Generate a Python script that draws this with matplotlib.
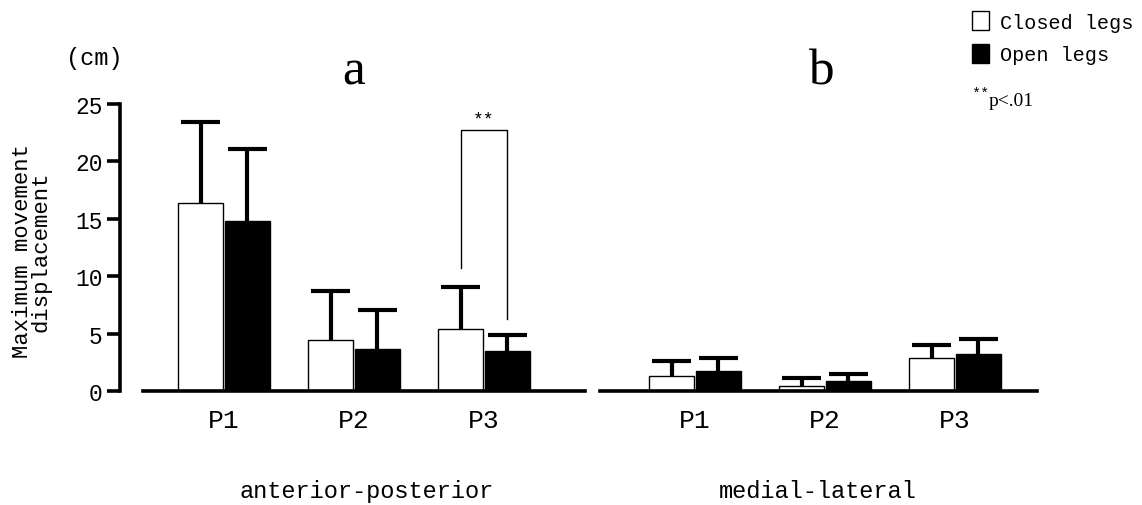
import matplotlib
matplotlib.use("Agg")
import matplotlib.pyplot as plt
import numpy as np
from matplotlib.patches import Patch

# ---- data ----
positions = ["P1", "P2", "P3"]
ap_closed = [16.4, 4.4, 5.4]
ap_closed_sd = [7.05, 4.35, 3.7]
ap_open = [14.8, 3.7, 3.5]
ap_open_sd = [6.3, 3.35, 1.35]
ml_closed = [1.33, 0.46, 2.85]
ml_closed_sd = [1.25, 0.67, 1.18]
ml_open = [1.7, 0.85, 3.22]
ml_open_sd = [1.15, 0.63, 1.31]
yticks = [0, 5, 10, 15, 20, 25]
panel_titles = ["a", "b"]
panel_xlabels = ["anterior-posterior", "medial-lateral"]
legend_labels = ["Closed legs", "Open legs"]
sig_text = "**"
sig_bracket_y = [10.7, 22.7, 6.3]  # left end, top, right end

FONT = ["Liberation Mono", "DejaVu Sans Mono"]
SERIF = ["Liberation Serif", "DejaVu Serif"]

W, H = 1142, 506
fig = plt.figure(figsize=(W / 100, H / 100), dpi=100)

def fx(px):
    return px / W

def fy(py):
    return 1 - py / H

unit = 130.0
ax1 = fig.add_axes([fx(120), fy(392), fx(585) - fx(120), fy(105) - fy(392)])
ax2 = fig.add_axes([fx(600), fy(392), fx(1037) - fx(600), fy(105) - fy(392)])
ax1.set_xlim((120 - 224) / unit, (585 - 224) / unit)
ax2.set_xlim((600 - 695) / unit, (1037 - 695) / unit)

bw = 0.345
off = 0.18
cap = 0.30
x = np.arange(len(positions))

def draw(ax, closed, csd, opn, osd):
    ax.bar(x - off, closed, bw, color="white", edgecolor="black", linewidth=1.0, zorder=2)
    ax.bar(x + off, opn, bw, color="black", edgecolor="black", linewidth=1.0, zorder=2)
    for xs, vals, sd in ((x - off, closed, csd), (x + off, opn, osd)):
        vals = np.asarray(vals)
        tops = vals + np.asarray(sd)
        ax.vlines(xs, vals, tops, color="black", linewidth=3.0, zorder=1)
        ax.hlines(tops, xs - cap / 2, xs + cap / 2, color="black", linewidth=3.0, zorder=1)
    ax.set_ylim(0, 25)
    for s in ("top", "right"):
        ax.spines[s].set_visible(False)
    ax.spines["bottom"].set_linewidth(2.6)
    ax.set_xticks(x)
    ax.set_xticklabels(positions, fontfamily=FONT, fontsize=19)
    ax.tick_params(axis="x", length=0, pad=12)
    ax.patch.set_visible(False)

draw(ax1, ap_closed, ap_closed_sd, ap_open, ap_open_sd)
draw(ax2, ml_closed, ml_closed_sd, ml_open, ml_open_sd)

ax1.spines["bottom"].set_bounds((143 - 224) / unit, ax1.get_xlim()[1])
ax1.spines["left"].set_linewidth(2.6)
ax1.spines["left"].set_bounds(0, 25)
ax1.set_yticks(yticks)
ax1.set_yticklabels([str(t) for t in yticks], fontfamily=FONT, fontsize=16.5)
ax1.tick_params(axis="y", length=9.5, width=2.6, pad=3)
ax1.set_ylabel("Maximum movement\ndisplacement", fontfamily=FONT, fontsize=16,
               linespacing=0.85)
ax1.yaxis.set_label_coords((52 - 120) / 465, 0.49)
ax2.spines["left"].set_visible(False)
ax2.set_yticks([])

# significance bracket on P3 (anterior-posterior)
bx = [2 - off, 2 - off, 2 + off, 2 + off]
by = [sig_bracket_y[0], sig_bracket_y[1], sig_bracket_y[1], sig_bracket_y[2]]
ax1.plot(bx, by, color="black", linewidth=1.0, zorder=3)
ax1.text(2, sig_bracket_y[1] + 0.25, sig_text, ha="center", va="bottom",
         fontfamily=FONT, fontsize=13)

# panel titles
fig.text(fx(354), fy(72), panel_titles[0], ha="center", va="center", fontfamily=SERIF, fontsize=37)
fig.text(fx(821), fy(72), panel_titles[1], ha="center", va="center", fontfamily=SERIF, fontsize=37)
fig.text(fx(94), fy(59), "(cm)", ha="center", va="center", fontfamily=FONT, fontsize=17)

# bottom labels
fig.text(fx(367), fy(492), panel_xlabels[0], ha="center", va="center", fontfamily=FONT, fontsize=17)
fig.text(fx(818), fy(492), panel_xlabels[1], ha="center", va="center", fontfamily=FONT, fontsize=17)

# legend
handles = [Patch(facecolor="white", edgecolor="black", linewidth=1.0),
           Patch(facecolor="black", edgecolor="black", linewidth=1.0)]
fig.legend(handles, legend_labels, loc="upper left", bbox_to_anchor=(fx(968), fy(8)),
           frameon=False, prop={"family": FONT, "size": 14.5}, handlelength=0.85,
           handleheight=1.1, handletextpad=0.55, labelspacing=0.6, borderaxespad=0,
           borderpad=0.2)
fig.text(fx(971), fy(94), "**", ha="left", va="center", fontfamily=FONT, fontsize=11)
fig.text(fx(989), fy(102), "p<.01", ha="left", va="center", fontfamily=SERIF, fontsize=14)

fig.savefig("out.png", dpi=100)
